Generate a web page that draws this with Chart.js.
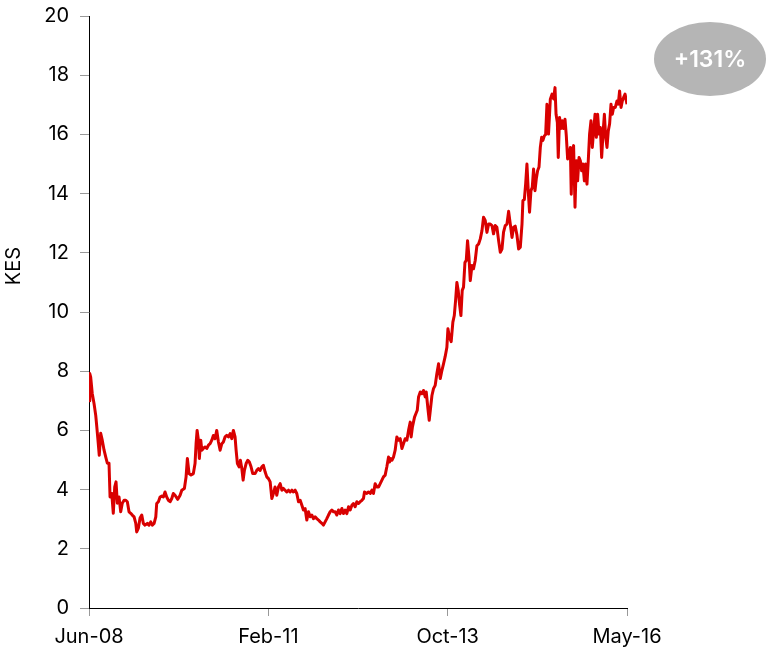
<!DOCTYPE html>
<html>
<head>
<meta charset="utf-8">
<title>KES</title>
<script src="https://cdn.jsdelivr.net/npm/chart.js@4/dist/chart.umd.min.js"></script>
<style>
  html, body { margin: 0; padding: 0; background: #fff; }
  #wrap { width: 767px; height: 656px; overflow: hidden; }
  #c { display: block; margin-top: -7px; }
</style>
</head>
<body>
<div id="wrap"><canvas id="c" width="767" height="663"></canvas></div>
<script>
// Weekly position (weeks since the start of the series) and price in KES
const weeks = [
  0.0, 0.6, 1.3, 2.5, 3.9, 5.2, 5.9, 6.9, 7.9, 9.0, 10.2, 11.6, 12.9, 14.1, 15.4, 16.2, 17.5, 18.7, 19.8, 20.8,
  21.8, 23.1, 24.4, 25.6, 27.0, 28.3, 29.5, 30.8, 32.1, 33.3, 34.7, 36.0, 36.7, 38.0, 39.3, 40.6, 41.8, 43.1, 44.9, 46.2,
  47.5, 48.7, 50.1, 51.4, 52.1, 53.4, 54.7, 56.0, 57.2, 58.5, 59.8, 61.1, 62.4, 63.7, 64.9, 66.2, 68.3, 70.1, 71.4, 73.4,
  74.7, 75.7, 77.0, 78.5, 80.3, 81.6, 82.4, 83.2, 84.2, 84.9, 86.0, 86.8, 88.0, 89.3, 90.6, 91.9, 93.2, 94.5, 95.7, 97.0,
  98.3, 99.6, 100.9, 102.2, 103.4, 104.7, 106.0, 107.3, 108.6, 109.9, 111.1, 112.4, 113.2, 114.2, 115.5, 116.5, 117.6, 118.6, 119.6, 120.9,
  122.2, 123.4, 124.7, 126.0, 127.8, 129.1, 130.4, 131.7, 133.0, 134.2, 135.5, 136.8, 138.1, 139.4, 140.7, 141.9, 143.2, 144.5, 145.8, 147.1,
  148.4, 149.6, 150.9, 152.2, 153.5, 154.8, 156.1, 157.3, 158.6, 159.9, 161.2, 162.5, 163.8, 165.0, 166.3, 167.6, 168.9, 170.2, 171.5, 172.7,
  174.0, 175.3, 176.6, 177.9, 179.2, 180.4, 181.7, 183.0, 184.3, 185.6, 186.9, 188.1, 189.4, 190.7, 192.0, 193.3, 194.6, 195.8, 197.1, 198.4,
  199.7, 201.0, 202.3, 203.5, 204.8, 206.1, 207.4, 208.7, 210.0, 211.2, 212.0, 213.8, 215.1, 216.4, 217.7, 218.9, 220.2, 221.5, 222.8, 224.1,
  225.4, 226.6, 227.9, 229.2, 230.5, 231.2, 232.3, 233.1, 234.3, 235.6, 236.9, 238.2, 239.5, 240.8, 242.0, 243.3, 244.6, 245.9, 247.2, 247.9,
  248.9, 250.5, 251.6, 252.6, 253.6, 254.9, 256.2, 257.4, 258.7, 259.5, 260.8, 261.8, 262.8, 263.9, 265.1, 266.4, 267.7, 269.0, 270.3, 271.6,
  272.8, 274.1, 275.4, 276.2, 277.4, 278.7, 280.0, 281.1, 282.1, 283.1, 284.1, 285.1, 286.2, 287.2, 288.2, 289.3, 290.3, 291.3, 292.4, 293.4,
  294.7, 295.9, 297.2, 298.5, 299.8, 301.1, 302.4, 303.6, 304.9, 306.2, 307.5, 308.8, 310.1, 311.3, 312.6, 313.9, 315.2, 316.5, 317.8, 319.0,
  320.3, 321.6, 322.9, 324.2, 325.5, 326.7, 328.0, 329.3, 330.6, 331.9, 333.2, 333.9, 335.0, 336.0, 337.0, 338.0, 339.0, 340.1, 341.1, 342.1,
  343.2, 344.2, 345.2, 346.3, 347.3, 348.3, 349.3, 350.4, 351.4, 352.4, 353.6, 355.0, 356.3, 357.5, 358.6, 359.4, 360.4, 361.1, 362.1, 363.2,
  364.2, 365.2, 366.3, 367.3, 368.3, 369.4, 370.4, 371.1, 371.9, 372.9, 374.0, 375.0, 376.0, 377.1, 378.1, 379.1, 380.1, 381.2, 382.2, 383.2,
  384.2, 385.2, 386.3, 387.3, 388.3, 389.4, 390.4, 391.4, 392.5, 393.5, 394.5, 395.5, 396.6, 397.6, 398.6, 399.6, 400.6, 401.7, 402.7, 403.7,
  405.0, 406.3, 407.3, 408.3, 409.4, 410.4, 411.4, 412.5, 413.5, 414.0
];

const kes = [
  7.00, 7.92, 7.80, 7.25, 6.90, 6.50, 6.17, 5.67, 5.16, 5.90, 5.67, 5.33, 5.10, 4.89, 4.89, 3.75, 3.87, 3.20, 4.09, 4.26,
  3.54, 3.75, 3.25, 3.54, 3.64, 3.64, 3.59, 3.25, 3.20, 3.14, 3.08, 2.86, 2.57, 2.70, 3.04, 3.14, 2.86, 2.80, 2.86, 2.80,
  2.91, 2.80, 2.86, 3.08, 3.53, 3.59, 3.75, 3.78, 3.75, 3.92, 3.75, 3.64, 3.59, 3.70, 3.87, 3.81, 3.67, 3.81, 3.98, 4.04,
  4.43, 5.05, 4.54, 4.49, 4.54, 4.88, 5.55, 6.00, 5.67, 5.05, 5.67, 5.33, 5.39, 5.44, 5.39, 5.50, 5.55, 5.67, 5.83, 5.72,
  6.00, 5.61, 5.33, 5.55, 5.61, 5.78, 5.83, 5.78, 5.89, 5.72, 6.00, 5.78, 5.33, 4.88, 4.77, 4.99, 4.71, 4.32, 4.65, 4.88,
  4.99, 4.93, 4.77, 4.54, 4.54, 4.65, 4.71, 4.65, 4.77, 4.82, 4.60, 4.43, 4.37, 4.26, 3.70, 3.87, 4.09, 3.81, 4.09, 4.20,
  3.98, 4.04, 3.98, 3.92, 3.98, 3.92, 3.98, 3.92, 3.98, 3.87, 3.59, 3.64, 3.47, 3.31, 3.36, 2.97, 3.25, 3.08, 3.14, 3.02,
  3.08, 3.02, 2.97, 2.91, 2.86, 2.80, 2.91, 3.02, 3.14, 3.25, 3.31, 3.25, 3.25, 3.14, 3.31, 3.19, 3.36, 3.19, 3.31, 3.19,
  3.42, 3.31, 3.47, 3.53, 3.42, 3.59, 3.53, 3.59, 3.64, 3.70, 3.92, 3.87, 3.92, 3.87, 3.98, 3.87, 4.20, 4.09, 4.09, 4.20,
  4.32, 4.43, 4.49, 4.77, 5.10, 4.93, 5.05, 4.99, 5.10, 5.33, 5.78, 5.67, 5.72, 5.39, 5.55, 5.72, 5.67, 6.00, 6.28, 5.78,
  6.12, 6.45, 6.57, 6.68, 7.13, 7.30, 7.24, 7.35, 7.13, 7.30, 6.74, 6.34, 6.74, 7.18, 7.41, 7.52, 7.92, 8.25, 7.75, 8.03,
  8.25, 8.50, 8.81, 9.43, 9.15, 9.00, 9.66, 9.88, 10.39, 11.00, 10.73, 10.28, 9.88, 10.73, 10.84, 11.68, 11.74, 12.41, 11.85, 11.06,
  11.57, 11.46, 11.74, 12.24, 12.30, 12.47, 12.75, 13.20, 13.09, 12.69, 12.97, 12.97, 12.92, 12.64, 12.92, 12.86, 12.41, 12.02, 12.13, 12.70,
  12.92, 12.97, 13.40, 12.97, 12.52, 12.86, 12.90, 12.60, 12.13, 12.19, 12.97, 13.76, 13.80, 14.32, 15.00, 14.10, 13.37, 14.10, 14.21, 14.83,
  14.10, 14.50, 14.77, 14.90, 15.56, 15.90, 15.80, 15.95, 16.00, 17.02, 16.01, 17.19, 17.36, 17.20, 17.58, 16.68, 16.40, 15.22, 16.57, 16.20,
  16.46, 16.20, 16.51, 15.95, 15.17, 15.30, 15.56, 13.98, 15.45, 15.62, 13.54, 15.11, 14.43, 15.22, 15.11, 14.77, 15.00, 14.43, 15.00, 14.32,
  15.11, 16.01, 16.46, 15.56, 16.12, 16.68, 15.90, 16.68, 16.01, 16.23, 15.22, 16.01, 16.68, 15.90, 15.56, 16.12, 16.35, 17.02, 16.68, 16.91,
  16.91, 17.13, 17.02, 17.47, 16.91, 17.13, 17.25, 17.36, 17.13, 17.02
];

const tickWeeks = [0, 138, 276, 414];
const tickLabels = ['Jun-08', 'Feb-11', 'Oct-13', 'May-16'];
const unitLabel = 'KES';
const changeLabel = '+131%';

const FONT = "'Inter', 'Roboto', 'Liberation Sans', sans-serif";

// Unit label on the left, set a little above the middle of the value axis
const unitTitle = {
  id: 'unitTitle',
  afterDraw(chart) {
    const { ctx, chartArea } = chart;
    ctx.save();
    ctx.translate(14, chartArea.top + 250);
    ctx.rotate(-Math.PI / 2);
    ctx.fillStyle = '#000';
    ctx.font = "20px " + FONT;
    ctx.textAlign = 'center';
    ctx.textBaseline = 'middle';
    ctx.fillText(unitLabel, 0, 0);
    ctx.restore();
  }
};

// Grey ellipse with the overall change, placed right of the plot area
const changeBadge = {
  id: 'changeBadge',
  afterDraw(chart) {
    const { ctx, chartArea } = chart;
    const cx = chartArea.right + 83;
    const cy = chartArea.top + 43;
    ctx.save();
    ctx.fillStyle = '#b5b5b5';
    ctx.beginPath();
    ctx.ellipse(cx, cy, 56, 37, 0, 0, Math.PI * 2);
    ctx.fill();
    ctx.fillStyle = '#ffffff';
    ctx.font = "600 23px " + FONT;
    ctx.textAlign = 'center';
    ctx.textBaseline = 'middle';
    ctx.fillText(changeLabel, cx, cy + 1);
    ctx.restore();
  }
};

new Chart(document.getElementById('c'), {
  type: 'line',
  data: {
    datasets: [{
      label: 'KES',
      data: weeks.map((w, i) => ({ x: w, y: kes[i] })),
      borderColor: '#d90000',
      borderWidth: 3,
      pointRadius: 0,
      tension: 0,
      borderJoinStyle: 'round',
      fill: false
    }]
  },
  options: {
    responsive: false,
    animation: false,
    layout: { padding: { top: 9, right: 140, left: 0, bottom: 0 } },
    plugins: { legend: { display: false }, tooltip: { enabled: false } },
    scales: {
      x: {
        type: 'linear',
        min: 0,
        max: 414,
        afterBuildTicks(scale) { scale.ticks = tickWeeks.map(v => ({ value: v })); },
        afterFit(scale) { scale.height = 48; },
        ticks: {
          autoSkip: false,
          maxRotation: 0,
          padding: 9,
          color: '#000',
          font: { family: FONT, size: 20 },
          callback: (v) => tickLabels[tickWeeks.indexOf(v)]
        },
        grid: { drawOnChartArea: false, drawTicks: true, tickLength: 8, color: '#999' },
        border: { color: '#000', width: 1 }
      },
      y: {
        min: 0,
        max: 20,
        afterFit(scale) { scale.width = 89; },
        ticks: {
          stepSize: 2,
          padding: 11,
          color: '#000',
          font: { family: FONT, size: 20 }
        },
        grid: { drawOnChartArea: false, drawTicks: true, tickLength: 9, color: '#999' },
        border: { color: '#000', width: 1 }
      }
    }
  },
  plugins: [unitTitle, changeBadge]
});
</script>
</body>
</html>
